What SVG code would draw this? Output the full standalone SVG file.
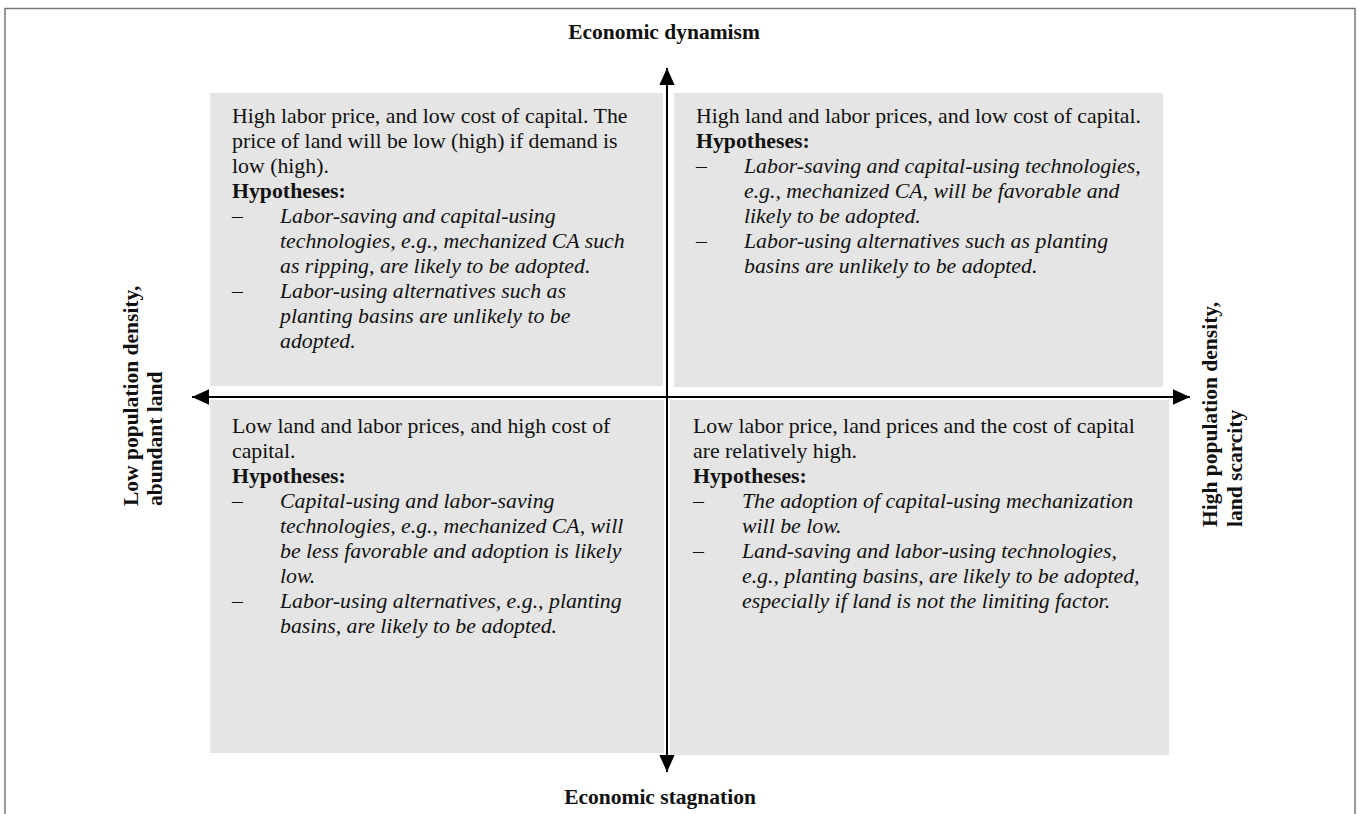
<svg xmlns="http://www.w3.org/2000/svg" width="1358" height="814" viewBox="0 0 1358 814">
<style>
.box{fill:#e5e5e5;}
.t{font-family:"Liberation Serif","Times New Roman",serif;font-size:21.8px;fill:#111;}
.b{font-weight:bold;}
.i{font-style:italic;}
.lab{font-family:"Liberation Serif","Times New Roman",serif;font-size:21.5px;font-weight:bold;fill:#111;}
.ax{stroke:#000;stroke-width:2;fill:none;}
</style>
<defs>
<marker id="ah" viewBox="0 0 10 10" refX="10" refY="5" markerWidth="17" markerHeight="17" markerUnits="userSpaceOnUse" orient="auto">
<path d="M0,0.5 L10,5 L0,9.5 Z" fill="#000"/>
</marker>
</defs>
<rect width="1358" height="814" fill="#fff"/>
<path d="M5,820 V8.5 H1355 V820" fill="none" stroke="#777" stroke-width="1.5"/>

<g id="q-top-left">
<rect class="box" x="210" y="93" width="453" height="293"/>
<text class="t" x="232" y="123">High labor price, and low cost of capital. The</text>
<text class="t" x="232" y="148">price of land will be low (high) if demand is</text>
<text class="t" x="232" y="173">low (high).</text>
<text class="t b" x="232" y="198">Hypotheses:</text>
<text class="t" x="232" y="223">–</text>
<text class="t i" x="280" y="223">Labor-saving and capital-using</text>
<text class="t i" x="280" y="248">technologies, e.g., mechanized CA such</text>
<text class="t i" x="280" y="273">as ripping, are likely to be adopted.</text>
<text class="t" x="232" y="298">–</text>
<text class="t i" x="280" y="298">Labor-using alternatives such as</text>
<text class="t i" x="280" y="323">planting basins are unlikely to be</text>
<text class="t i" x="280" y="348">adopted.</text>
</g>

<g id="q-top-right">
<rect class="box" x="674" y="93" width="489" height="294"/>
<text class="t" x="696" y="123">High land and labor prices, and low cost of capital.</text>
<text class="t b" x="696" y="148">Hypotheses:</text>
<text class="t" x="696" y="173">–</text>
<text class="t i" x="744" y="173">Labor-saving and capital-using technologies,</text>
<text class="t i" x="744" y="198">e.g., mechanized CA, will be favorable and</text>
<text class="t i" x="744" y="223">likely to be adopted.</text>
<text class="t" x="696" y="248">–</text>
<text class="t i" x="744" y="248">Labor-using alternatives such as planting</text>
<text class="t i" x="744" y="273">basins are unlikely to be adopted.</text>
</g>

<g id="q-bottom-left">
<rect class="box" x="210" y="400" width="454" height="353"/>
<text class="t" x="232" y="433">Low land and labor prices, and high cost of</text>
<text class="t" x="232" y="458">capital.</text>
<text class="t b" x="232" y="483">Hypotheses:</text>
<text class="t" x="232" y="508">–</text>
<text class="t i" x="280" y="508">Capital-using and labor-saving</text>
<text class="t i" x="280" y="533">technologies, e.g., mechanized CA, will</text>
<text class="t i" x="280" y="558">be less favorable and adoption is likely</text>
<text class="t i" x="280" y="583">low.</text>
<text class="t" x="232" y="608">–</text>
<text class="t i" x="280" y="608">Labor-using alternatives, e.g., planting</text>
<text class="t i" x="280" y="633">basins, are likely to be adopted.</text>
</g>

<g id="q-bottom-right">
<rect class="box" x="670" y="400" width="499" height="355"/>
<text class="t" x="693" y="433">Low labor price, land prices and the cost of capital</text>
<text class="t" x="693" y="458">are relatively high.</text>
<text class="t b" x="693" y="483">Hypotheses:</text>
<text class="t" x="693" y="508">–</text>
<text class="t i" x="742" y="508">The adoption of capital-using mechanization</text>
<text class="t i" x="742" y="533">will be low.</text>
<text class="t" x="693" y="558">–</text>
<text class="t i" x="742" y="558">Land-saving and labor-using technologies,</text>
<text class="t i" x="742" y="583">e.g., planting basins, are likely to be adopted,</text>
<text class="t i" x="742" y="608">especially if land is not the limiting factor.</text>
</g>

<g id="connectors">
<line class="ax" x1="667" y1="400" x2="667" y2="68" marker-end="url(#ah)"/>
<line class="ax" x1="667" y1="395" x2="667" y2="772" marker-end="url(#ah)"/>
<line class="ax" x1="670" y1="397" x2="192" y2="397" marker-end="url(#ah)"/>
<line class="ax" x1="664" y1="397" x2="1190" y2="397" marker-end="url(#ah)"/>
</g>

<g id="label-top"><text class="lab" x="664" y="39" text-anchor="middle">Economic dynamism</text></g>
<g id="label-bottom"><text class="lab" x="660" y="804" text-anchor="middle">Economic stagnation</text></g>
<g id="label-left">
<text class="lab" transform="translate(138,506) rotate(-90)">Low population density,</text>
<text class="lab" transform="translate(162,506) rotate(-90)">abundant land</text>
</g>
<g id="label-right">
<text class="lab" transform="translate(1217,527) rotate(-90)">High population density,</text>
<text class="lab" transform="translate(1242,527) rotate(-90)">land scarcity</text>
</g>
</svg>
